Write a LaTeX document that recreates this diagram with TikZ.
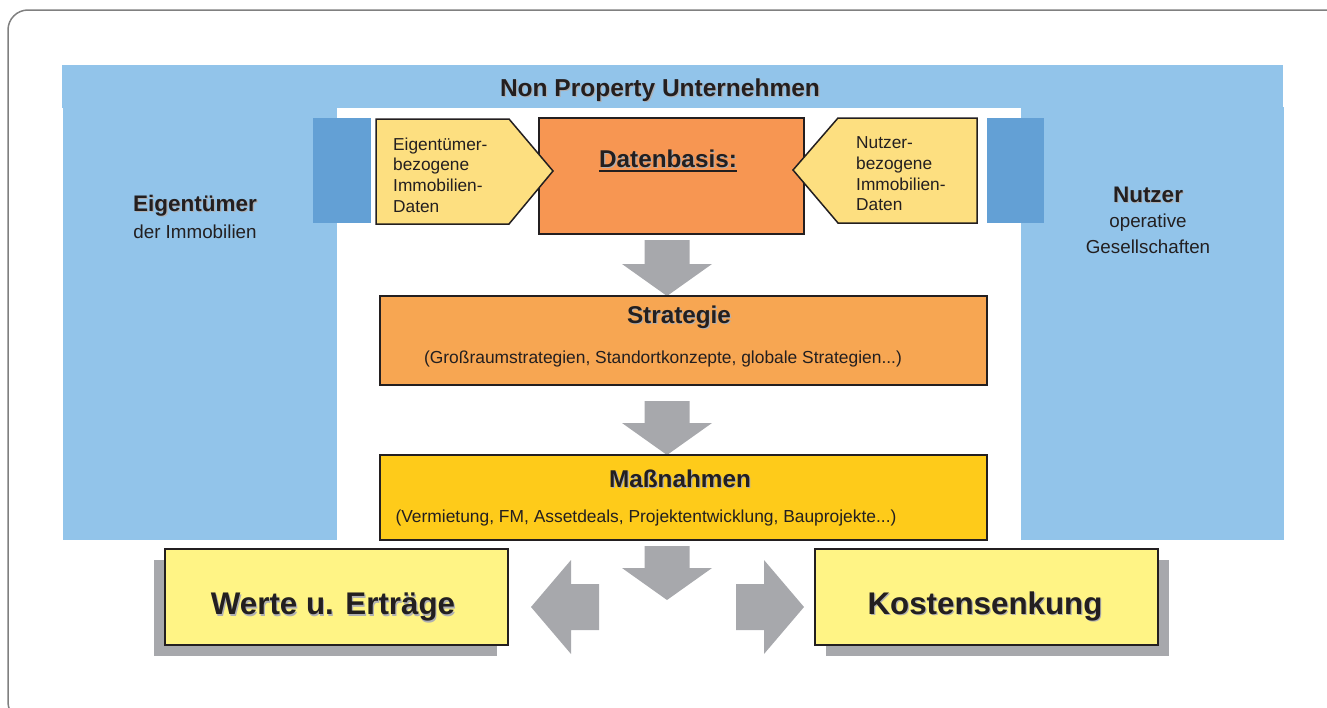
\documentclass[tikz,border=0pt]{standalone}
\usepackage{fontspec}
\setmainfont{Liberation Sans}
\usetikzlibrary{shadows,positioning}

\definecolor{npuBlue}{RGB}{146,196,234}
\definecolor{npuTab}{RGB}{99,160,213}
\definecolor{npuPenta}{RGB}{253,223,128}
\definecolor{npuData}{RGB}{247,150,82}
\definecolor{npuStrat}{RGB}{247,166,82}
\definecolor{npuMass}{RGB}{254,203,26}
\definecolor{npuResult}{RGB}{255,244,133}
\definecolor{npuArrow}{RGB}{167,168,172}
\definecolor{npuText}{RGB}{35,31,32}
\definecolor{npuShade}{RGB}{175,175,178}
\definecolor{npuFrame}{RGB}{128,128,128}

% bold labels get a light grey copy slightly offset behind them
\newcommand{\shadowed}[1]{\makebox[0pt][l]{\hspace{1.2pt}\raisebox{-1.2pt}{\color{npuShade}#1}}#1}

\tikzset{
  box/.style={draw=npuText, line width=1.5pt, inner sep=0pt},
  result/.style={box, line width=2pt, fill=npuResult, minimum width=343, minimum height=96,
    drop shadow={shadow xshift=#1, shadow yshift=-11pt, fill=npuArrow, opacity=1}},
  penta/.style={draw=npuText, line width=1.5pt, fill=npuPenta, line join=miter},
  lbl/.style={inner sep=0pt, text=npuText},
  headline/.style={lbl, font=\bfseries\fontsize{24.5}{29}\selectfont},
  sidetitle/.style={lbl, font=\bfseries\fontsize{22.5}{27}\selectfont},
  sidetext/.style={lbl, align=center, font=\fontsize{18.8}{26}\selectfont},
  titletext/.style={lbl, font=\bfseries\fontsize{24.3}{29}\selectfont},
  subtext/.style={lbl, font=\fontsize{17.4}{21}\selectfont},
  pentatext/.style={lbl, align=left, font=\fontsize{17.3}{20.7}\selectfont},
  resulttext/.style={lbl, font=\bfseries\fontsize{31.3}{36}\selectfont},
  pics/downarrow/.style={code={
    \fill[npuArrow] (0,0) -- (45,-32) -- (22.5,-32) -- (22.5,-32-#1)
      -- (-22.5,-32-#1) -- (-22.5,-32) -- (-45,-32) -- cycle;
  }},
  pics/sidearrow/.style={code={
    \fill[npuArrow] (0,0) -- (40,-47) -- (40,-23) -- (68,-23)
      -- (68,23) -- (40,23) -- (40,47) -- cycle;
  }}
}

\begin{document}
\begin{tikzpicture}
% one unit is one pixel of the chart, y runs downwards
\def\px{1pt}
\begin{scope}[x=\px, y=-\px]
  \clip (0,0) rectangle (1327,707);
  % Outer frame, open to the right and at the bottom
  \draw[npuFrame, line width=1.5, rounded corners=20] (8,10) rectangle (1350,722);

  % Company band with the two side columns
  \fill[npuBlue] (62,65) rectangle (1283,108);
  \fill[npuBlue] (63,107) rectangle (337,540);
  \fill[npuBlue] (1021,107) rectangle (1284,540);
  \node[headline] (npu) at (660,91) {\shadowed{Non Property Unternehmen}};

  % Owner and user
  \node[sidetitle] (eig) at (195,206) {\shadowed{Eigentümer}};
  \node[sidetext] (eigsub) at (195,232) {der Immobilien};
  \node[sidetitle] (nutz) at (1148,195) {\shadowed{Nutzer}};
  \node[sidetext] (nutzsub) at (1148,234) {operative\\Gesellschaften};

  % Tabs next to the data inputs
  \fill[npuTab] (313,118) rectangle (371,223);
  \fill[npuTab] (987,118) rectangle (1044,223);

  % Data basis
  \node[box, fill=npuData, minimum width=265, minimum height=116] (daten) at (671.5,176) {};
  \node[titletext] (datlabel) at (668,159) {\shadowed{Datenbasis:}};
  \draw[npuText, line width=2] ([yshift=-4pt]datlabel.base west) -- ([yshift=-4pt]datlabel.base east);

  % Inputs pointing into the data basis
  \draw[penta] (376,119) -- (509,119) -- (553,171) -- (509,224) -- (376,224) -- cycle;
  \node[pentatext, anchor=west] (eigdat) at (393,175) {Eigentümer-\\bezogene\\Immobilien-\\Daten};
  \draw[penta] (977,118) -- (838,118) -- (793,170) -- (838,223) -- (977,223) -- cycle;
  \node[pentatext, anchor=west] (nutzdat) at (856,174) {Nutzer-\\bezogene\\Immobilien-\\Daten};

  % Strategy
  \pic at (667,296) {downarrow=24};
  \node[box, fill=npuStrat, minimum width=607, minimum height=89] (strat) at (683.5,340.5) {};
  \node[titletext] (stratlabel) at (679,318) {\shadowed{Strategie}};
  \node[subtext] (stratsub) at (663,359) {(Großraumstrategien, Standortkonzepte, globale Strategien...)};

  % Measures
  \pic at (667,455) {downarrow=22};
  \node[box, fill=npuMass, minimum width=607, minimum height=85] (mass) at (683.5,497.5) {};
  \node[titletext] (masslabel) at (680,479) {\shadowed{Maßnahmen}};
  \node[subtext] (masssub) at (646,518) {(Vermietung, FM, Assetdeals, Projektentwicklung, Bauprojekte...)};

  % Results
  \pic at (667,600) {downarrow=22};
  \pic at (531,607) {sidearrow};
  \pic[xscale=-1] at (804,607) {sidearrow};
  \node[result=-11pt] (werte) at (336.5,597) {};
  \node[resulttext] (wertelabel) at (333,608) {\shadowed{Werte u. Erträge}};
  \node[result=11pt] (kosten) at (986.5,597) {};
  \node[resulttext] (kostenlabel) at (985,607) {\shadowed{Kostensenkung}};
\end{scope}
\end{tikzpicture}
\end{document}
